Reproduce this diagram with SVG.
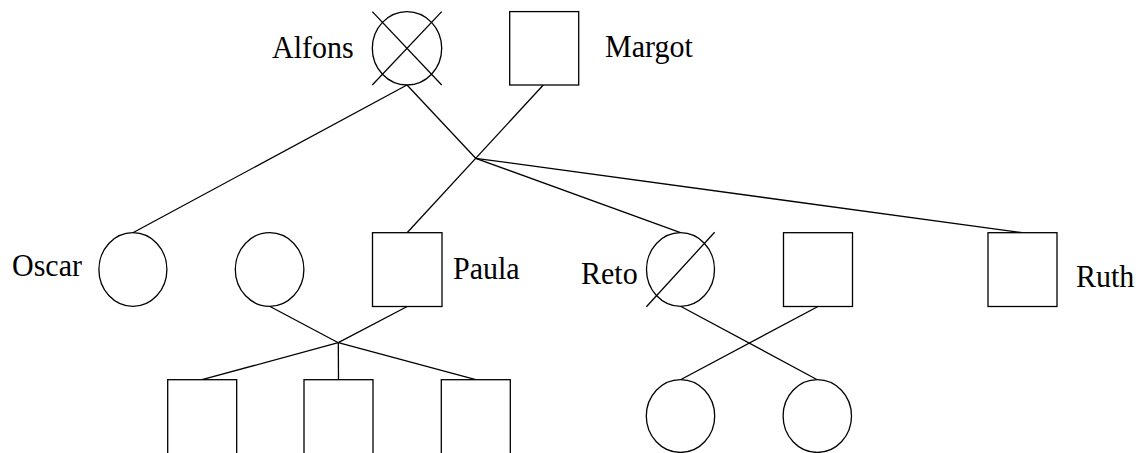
<svg xmlns="http://www.w3.org/2000/svg" width="1144" height="453" viewBox="0 0 1144 453">
  <style>
    .shape { fill: #ffffff; stroke: #000000; stroke-width: 1.3; }
    .mark { fill: none; stroke: #000000; stroke-width: 1.3; }
    .edge { fill: none; stroke: #000000; stroke-width: 1.3; }
    .label { font-family: "Liberation Serif", "Times New Roman", serif; font-size: 30px; fill: #000000; }
  </style>
  <rect width="1144" height="453" fill="#ffffff"/>

  <!-- family connectors -->
  <g id="connectors">
    <line class="edge" x1="407" y1="85" x2="132.9" y2="232.7"/>
    <line class="edge" x1="407" y1="85" x2="475.7" y2="158.3"/>
    <line class="edge" x1="543.3" y1="85" x2="407.1" y2="232.7"/>
    <line class="edge" x1="475.7" y1="158.3" x2="680.5" y2="232.7"/>
    <line class="edge" x1="475.7" y1="158.3" x2="1022.5" y2="232.7"/>
    <line class="edge" x1="269.6" y1="306.3" x2="338.3" y2="342.7"/>
    <line class="edge" x1="407.2" y1="306.5" x2="338.3" y2="342.7"/>
    <line class="edge" x1="338.3" y1="342.7" x2="202" y2="379.7"/>
    <line class="edge" x1="338.3" y1="342.7" x2="338.5" y2="379.7"/>
    <line class="edge" x1="338.3" y1="342.7" x2="475.8" y2="379.7"/>
    <line class="edge" x1="680.5" y1="306.3" x2="817.3" y2="379.7"/>
    <line class="edge" x1="818" y1="306.5" x2="680.5" y2="379.7"/>
  </g>

  <!-- generation 1 -->
  <g id="alfons">
    <ellipse class="shape" cx="407" cy="48.3" rx="34.7" ry="36.7"/>
    <line class="mark" x1="372.3" y1="11.6" x2="441.7" y2="85"/>
    <line class="mark" x1="441.7" y1="11.6" x2="372.3" y2="85"/>
    <text class="label" transform="translate(272,57.5) scale(1,1.08)">Alfons</text>
  </g>
  <g id="margot">
    <rect class="shape" x="509.7" y="11.6" width="69" height="73.4"/>
    <text class="label" transform="translate(605,56.5) scale(1,1.08)">Margot</text>
  </g>

  <!-- generation 2 -->
  <g id="oscar">
    <ellipse class="shape" cx="132.9" cy="269.5" rx="34" ry="36.8"/>
    <text class="label" transform="translate(12,275.5) scale(1,1.08)">Oscar</text>
  </g>
  <g id="spouse-left">
    <ellipse class="shape" cx="269.6" cy="269.5" rx="34.3" ry="36.8"/>
  </g>
  <g id="paula">
    <rect class="shape" x="372.5" y="232.7" width="69.5" height="73.8"/>
    <text class="label" transform="translate(453,278.5) scale(1,1.08)">Paula</text>
  </g>
  <g id="reto">
    <ellipse class="shape" cx="680.5" cy="269.5" rx="34" ry="36.8"/>
    <line class="mark" x1="646.4" y1="306.7" x2="714.6" y2="232.3"/>
    <text class="label" transform="translate(581,284) scale(1,1.08)">Reto</text>
  </g>
  <g id="spouse-right">
    <rect class="shape" x="783.5" y="232.7" width="69" height="73.8"/>
  </g>
  <g id="ruth">
    <rect class="shape" x="988" y="232.7" width="69" height="73.8"/>
    <text class="label" transform="translate(1076,287) scale(1,1.08)">Ruth</text>
  </g>

  <!-- generation 3 -->
  <g id="child-1">
    <rect class="shape" x="167.7" y="379.7" width="69" height="76"/>
  </g>
  <g id="child-2">
    <rect class="shape" x="304" y="379.7" width="69" height="76"/>
  </g>
  <g id="child-3">
    <rect class="shape" x="441.3" y="379.7" width="69" height="76"/>
  </g>
  <g id="child-4">
    <ellipse class="shape" cx="680.5" cy="416" rx="34.2" ry="36.4"/>
  </g>
  <g id="child-5">
    <ellipse class="shape" cx="817.3" cy="416" rx="34.2" ry="36.4"/>
  </g>
</svg>
